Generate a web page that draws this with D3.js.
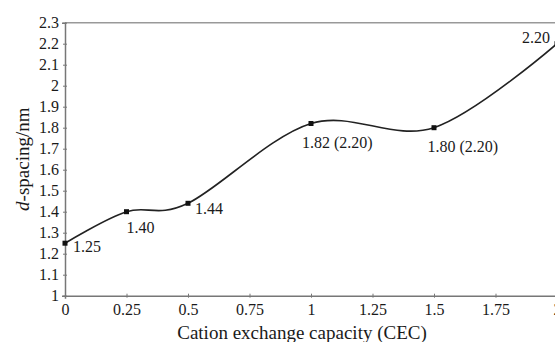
<!DOCTYPE html>
<html>
<head>
<meta charset="utf-8">
<script src="https://cdn.jsdelivr.net/npm/d3@7"></script>
<style>
  body { margin: 0; background: #fff; }
  svg { display: block; }
  svg text { font-family: "Liberation Serif", "Times New Roman", serif; fill: #1a1a1a; }
</style>
</head>
<body>
<svg id="chart" width="555" height="342"></svg>
<script>
// data
const cec = [0, 0.25, 0.5, 1, 1.5, 2];
const dSpacing = [1.25, 1.40, 1.44, 1.82, 1.80, 2.20];
const pointLabels = ["1.25", "1.40", "1.44", "1.82 (2.20)", "1.80 (2.20)", "2.20"];
const xTicks = [0, 0.25, 0.5, 0.75, 1, 1.25, 1.5, 1.75, 2];
const yTicks = [1, 1.1, 1.2, 1.3, 1.4, 1.5, 1.6, 1.7, 1.8, 1.9, 2, 2.1, 2.2, 2.3];

const FONT = '"Liberation Serif", "Times New Roman", serif';

const svg = d3.select("#chart");
const margin = { left: 65, top: 22.7, bottom: 46.3 };
const W = 557, H = 342;

const x = d3.scaleLinear().domain([0, 2]).range([margin.left, W]);
const y = d3.scaleLinear().domain([1, 2.3]).range([H - margin.bottom, margin.top]);

const axisColor = "#777";

// top frame line
svg.append("line")
    .attr("x1", x(0)).attr("x2", W)
    .attr("y1", y(2.3)).attr("y2", y(2.3))
    .attr("stroke", "#999").attr("stroke-width", 1.5);

// y axis
const yAxis = svg.append("g")
    .attr("transform", `translate(${x(0)},0)`)
    .call(d3.axisLeft(y).tickValues(yTicks).tickSize(3).tickPadding(3)
        .tickFormat(d => String(+d.toFixed(1))));
yAxis.attr("font-family", FONT);
yAxis.select(".domain").attr("stroke", axisColor).attr("stroke-width", 1.5);
yAxis.selectAll(".tick line").attr("stroke", axisColor).attr("x2", 2).attr("x1", -2);
yAxis.selectAll(".tick text").attr("font-size", 16).attr("fill", "#1a1a1a");

// x axis
const xAxis = svg.append("g")
    .attr("transform", `translate(0,${y(1)})`)
    .call(d3.axisBottom(x).tickValues(xTicks).tickSize(3).tickPadding(5)
        .tickFormat(d => String(d)));
xAxis.attr("font-family", FONT);
xAxis.select(".domain").attr("stroke", axisColor).attr("stroke-width", 1.5);
xAxis.selectAll(".tick line").attr("stroke", axisColor).attr("y1", -2).attr("y2", 2);
xAxis.selectAll(".tick text").attr("font-size", 16).attr("fill", "#1a1a1a");

// smoothed line
const pts = cec.map((c, i) => [c, dSpacing[i]]);
const line = d3.line()
    .x(d => x(d[0]))
    .y(d => y(d[1]))
    .curve(d3.curveCardinal.tension(0));

svg.append("path")
    .datum(pts)
    .attr("d", line)
    .attr("fill", "none")
    .attr("stroke", "#222")
    .attr("stroke-width", 1.6);

// markers
svg.selectAll("rect.marker").data(pts)
  .join("rect")
    .attr("class", "marker")
    .attr("x", d => x(d[0]) - 2.5)
    .attr("y", d => y(d[1]) - 2.5)
    .attr("width", 5).attr("height", 5)
    .attr("fill", "#111");

// point labels
const labelOffsets = [[8, 3], [0, 16], [7, 5], [-9, 18.5], [-6.5, 19], [-7, -6]];
svg.selectAll("text.pt").data(pts)
  .join("text")
    .attr("class", "pt")
    .attr("x", (d, i) => x(d[0]) + labelOffsets[i][0])
    .attr("y", (d, i) => y(d[1]) + labelOffsets[i][1])
    .attr("dy", "0.35em")
    .attr("text-anchor", (d, i) => i === pts.length - 1 ? "end" : "start")
    .attr("font-size", 16)
    .text((d, i) => pointLabels[i]);

// axis titles
svg.append("text")
    .attr("transform", `translate(22,${(y(1) + y(2.3)) / 2}) rotate(-90)`)
    .attr("text-anchor", "middle")
    .attr("dy", "0.35em")
    .attr("font-size", 19)
    .html('<tspan font-style="italic">d</tspan>-spacing/nm');

svg.append("text")
    .attr("x", 302)
    .attr("y", 338.5)
    .attr("text-anchor", "middle")
    .attr("font-size", 19)
    .text("Cation exchange capacity (CEC)");
</script>
</body>
</html>
